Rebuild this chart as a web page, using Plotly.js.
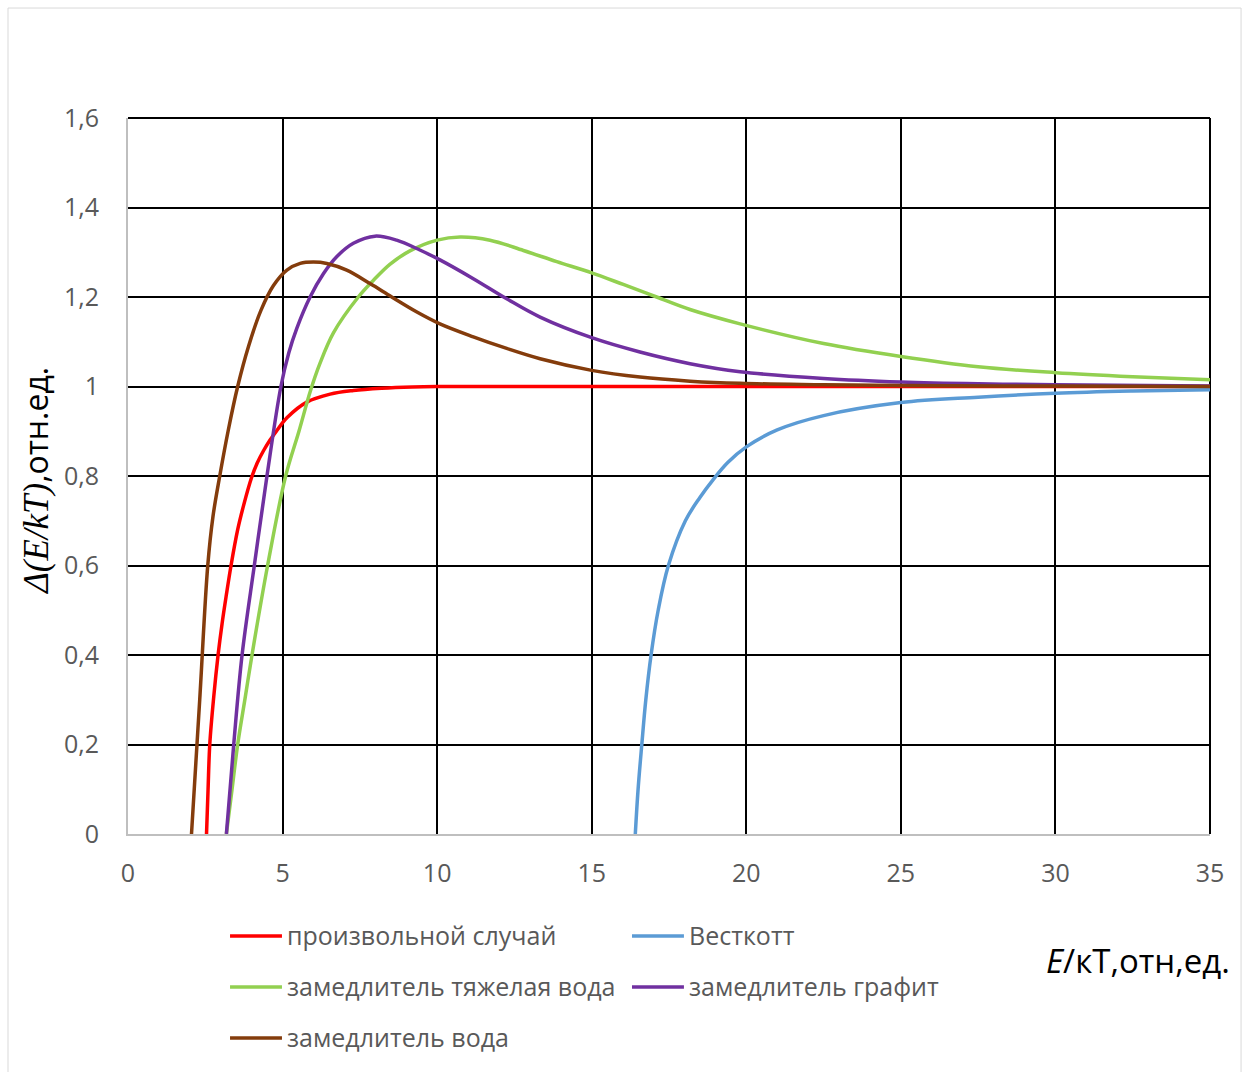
<!DOCTYPE html>
<html>
<head>
<meta charset="utf-8">
<script src="https://cdn.plot.ly/plotly-3.0.1.min.js"></script>
<style>html,body{margin:0;padding:0;background:#fff;}#chart{width:1245px;height:1072px;}</style>
</head>
<body>
<div id="chart"></div>
<script>
// ---- data ----
const seriesNames = ['произвольной случай', 'Весткотт', 'замедлитель тяжелая вода', 'замедлитель графит', 'замедлитель вода'];
const seriesColors = ['#FF0000', '#5B9BD5', '#92D050', '#7030A0', '#843C0C'];

const xArbitrary = [2.54, 2.59, 2.645, 2.774, 2.914, 3.043, 3.183, 3.333, 3.548, 3.742, 3.99, 4.18, 4.387, 4.6, 4.8, 5.14, 5.785, 6.54, 7.29, 8.2, 9.2, 10, 15, 20, 25, 30, 35];
const yArbitrary = [0, 0.1, 0.2, 0.307, 0.4, 0.47, 0.535, 0.6, 0.68, 0.735, 0.795, 0.829, 0.857, 0.881, 0.9, 0.93, 0.965, 0.983, 0.991, 0.996, 0.999, 1, 1, 1, 1, 1, 1];

const xWestcott = [16.41, 16.5, 16.62, 16.75, 16.92, 17.15, 17.48, 18.03, 18.5, 18.93, 19.4, 20, 21, 22.5, 25, 27.5, 30, 32.5, 35];
const yWestcott = [0, 0.1, 0.2, 0.3, 0.4, 0.5, 0.6, 0.7, 0.752, 0.792, 0.83, 0.865, 0.903, 0.935, 0.964, 0.976, 0.985, 0.99, 0.993];

const xHeavyWater = [3.183, 3.366, 3.548, 3.796, 4.011, 4.516, 5.1, 5.53, 5.9, 6.2, 6.645, 7.45, 7.935, 8.47, 9.12, 10.0, 10.74, 11.71, 12.79, 13.87, 15, 16.02, 17.1, 18.18, 19.8, 22.5, 25, 27.5, 30, 32.5, 35];
const yHeavyWater = [0, 0.1, 0.2, 0.307, 0.4, 0.6, 0.8, 0.9, 0.99, 1.05, 1.12, 1.2, 1.237, 1.273, 1.303, 1.327, 1.334, 1.327, 1.304, 1.279, 1.254, 1.228, 1.2, 1.172, 1.14, 1.096, 1.067, 1.044, 1.031, 1.022, 1.015];

const xGraphite = [3.183, 3.42, 3.69, 4.086, 4.495, 4.946, 5.2, 5.46, 5.89, 6.32, 6.75, 7.29, 7.99, 8.69, 9.44, 10.09, 11.17, 12.25, 13.33, 15, 16.56, 18.18, 19.8, 22.5, 25, 27.5, 30, 35];
const yGraphite = [0, 0.2, 0.4, 0.6, 0.8, 1.0, 1.075, 1.13, 1.2, 1.252, 1.29, 1.32, 1.336, 1.327, 1.305, 1.283, 1.241, 1.196, 1.155, 1.109, 1.077, 1.051, 1.033, 1.018, 1.01, 1.006, 1.004, 1.001];

const xWater = [2.054, 2.32, 2.58, 2.75, 2.968, 3.237, 3.548, 3.9, 4.3, 4.7, 5.14, 5.57, 6.0, 6.43, 7.075, 7.83, 8.53, 9.33, 10.09, 11.17, 12.25, 13.33, 15, 16.56, 18.18, 19.8, 22.5, 25, 30, 35];
const yWater = [0, 0.3, 0.6, 0.71, 0.8, 0.9, 1.0, 1.09, 1.17, 1.225, 1.26, 1.275, 1.278, 1.275, 1.26, 1.23, 1.2, 1.167, 1.14, 1.111, 1.085, 1.062, 1.036, 1.021, 1.012, 1.007, 1.004, 1.002, 1.001, 1.0];

const xTickVals = [0, 5, 10, 15, 20, 25, 30, 35];
const yTickVals = [0, 0.2, 0.4, 0.6, 0.8, 1.0, 1.2, 1.4, 1.6];
const yTitleText = '<span style="font-family:\'Liberation Serif\',serif;font-style:italic;font-size:35px">Δ(E/kT)</span>,отн.ед.';
const xTitleText = '<i>E</i>/кТ,отн,ед.';

// ---- build ----
const xs = [xArbitrary, xWestcott, xHeavyWater, xGraphite, xWater];
const ys = [yArbitrary, yWestcott, yHeavyWater, yGraphite, yWater];
const FONT = '"Open Sans", Lato, sans-serif';

const traces = xs.map((x, i) => ({
  type: 'scatter', mode: 'lines', x: x, y: ys[i], name: seriesNames[i],
  line: {color: seriesColors[i], width: 3.5, shape: 'spline', smoothing: 1},
  showlegend: false, hoverinfo: 'x+y+name'
}));

// manual legend (two columns, three rows) built from series names/colours
const legendRowsY = [-0.1425, -0.2137, -0.2849];
const legendColsX = [0.0943, 0.4658];
const shapes = [];
const annotations = [];
seriesNames.forEach((nm, i) => {
  const r = Math.floor(i / 2), c = i % 2;
  const x0 = legendColsX[c];
  shapes.push({type: 'line', xref: 'paper', yref: 'paper', x0: x0, x1: x0 + 0.048,
    y0: legendRowsY[r], y1: legendRowsY[r], line: {color: seriesColors[i], width: 3.5}});
  annotations.push({xref: 'paper', yref: 'paper', x: x0 + 0.0505, y: legendRowsY[r] + 0.002,
    xanchor: 'left', yanchor: 'middle', showarrow: false, text: nm,
    font: {family: FONT, size: 25, color: '#595959'}});
});
// chart-area border
shapes.push({type: 'rect', xref: 'paper', yref: 'paper', x0: -0.1109, x1: 1.0287, y0: -0.34, y1: 1.1536,
  line: {color: '#D9D9D9', width: 1}, fillcolor: 'rgba(0,0,0,0)', layer: 'below'});
// top and right frame lines (grid at 1,6 and 35)
shapes.push({type: 'line', xref: 'paper', yref: 'paper', x0: 0, x1: 1, y0: 1, y1: 1, line: {color: '#000', width: 2}, layer: 'below'});
shapes.push({type: 'line', xref: 'paper', yref: 'paper', x0: 1, x1: 1, y0: 0, y1: 1, line: {color: '#000', width: 2}, layer: 'below'});

annotations.push({xref: 'paper', yref: 'paper', x: -0.0855, y: 0.494, textangle: -90,
  xanchor: 'center', yanchor: 'middle',
  showarrow: false, text: yTitleText, font: {family: FONT, size: 32, color: '#000'}});
annotations.push({xref: 'paper', yref: 'paper', x: 1.0203, y: -0.176, xanchor: 'right', yanchor: 'middle',
  showarrow: false, text: xTitleText, font: {family: FONT, size: 33, color: '#000'}});

const layout = {
  width: 1245, height: 1072,
  margin: {l: 128, r: 35, t: 118, b: 238},
  paper_bgcolor: '#fff', plot_bgcolor: '#fff',
  separators: ', ',
  showlegend: false,
  xaxis: {
    range: [0, 35], tickvals: xTickVals, ticks: '', showgrid: true, gridcolor: '#000', gridwidth: 2,
    zeroline: false, showline: true, linecolor: '#BFBFBF', linewidth: 2,
    tickfont: {family: FONT, size: 25, color: '#595959'}, ticklabelstandoff: 16, fixedrange: true
  },
  yaxis: {
    range: [0, 1.6], tickvals: yTickVals, ticks: '', showgrid: true, gridcolor: '#000', gridwidth: 2,
    zeroline: false, showline: true, linecolor: '#BFBFBF', linewidth: 2,
    tickfont: {family: FONT, size: 25, color: '#595959'}, ticklabelstandoff: 22, fixedrange: true
  },
  shapes: shapes,
  annotations: annotations
};

Plotly.newPlot('chart', traces, layout, {displayModeBar: false, staticPlot: true});
</script>
</body>
</html>
